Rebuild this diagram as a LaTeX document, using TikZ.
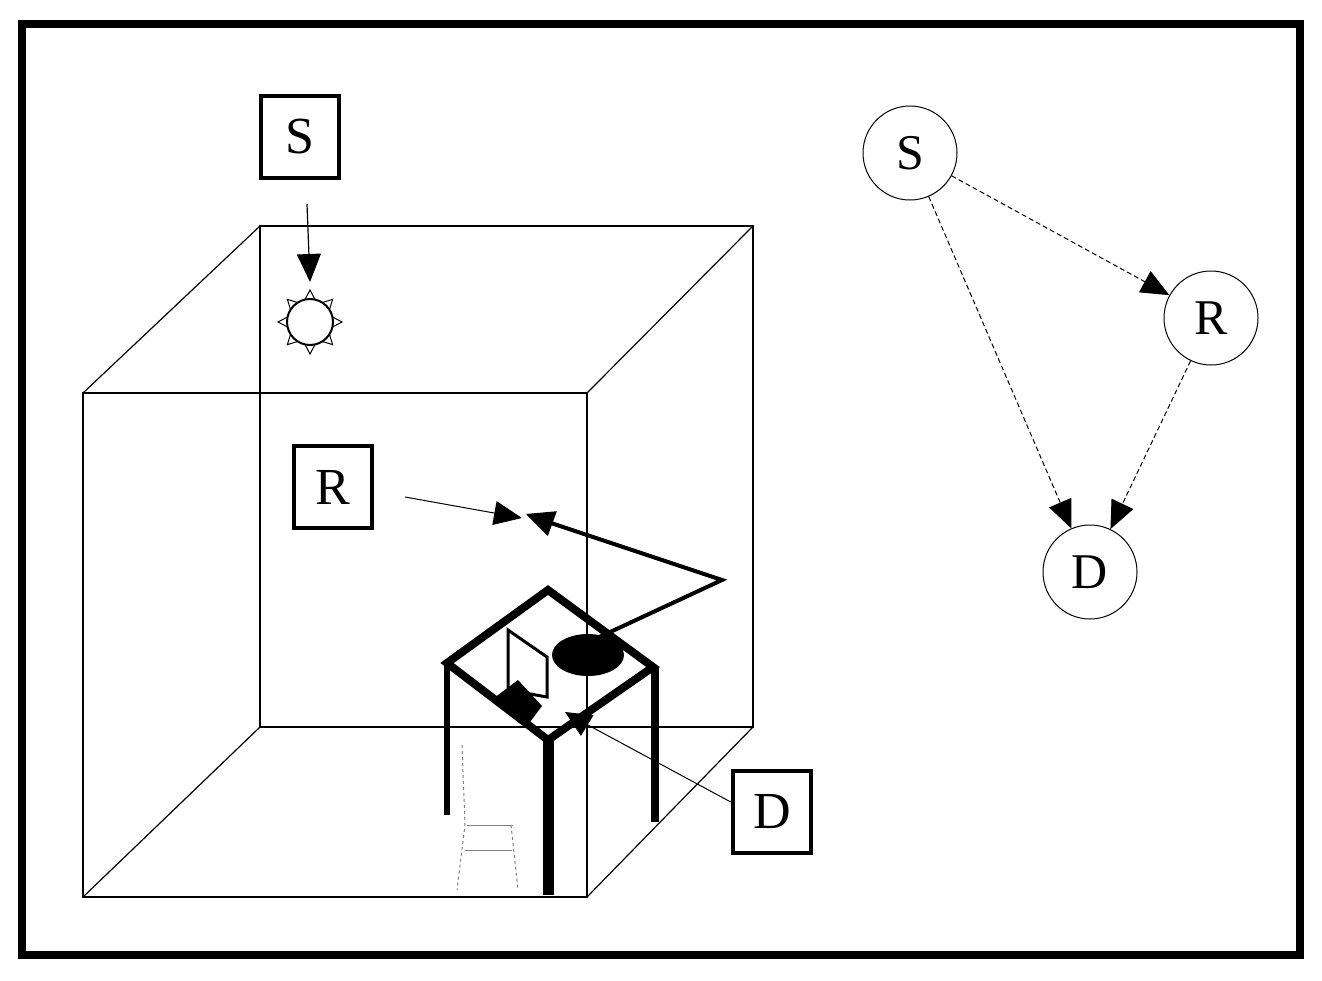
\documentclass[tikz,border=0pt]{standalone}
\usepackage{fontspec}
\setmainfont{Liberation Serif}
\usetikzlibrary{arrows.meta,calc}
\begin{document}
\begin{tikzpicture}[x=1pt,y=-1pt,
  box/.style={draw,line width=4.5pt,minimum width=78pt,minimum height=82pt,inner sep=0pt,font=\fontsize{52}{52}\selectfont},
  gn/.style={draw,circle,line width=1pt,minimum size=94pt,inner sep=0pt,font=\fontsize{50}{50}\selectfont},
  big/.style={-{Triangle[length=28pt,width=24pt]}},
  dep/.style={big,dashed,line width=1pt,dash pattern=on 5pt off 3pt}]
\useasboundingbox (0,0) rectangle (1322,980);
\draw[line width=8pt] (22,24) rectangle (1300,955);
% cube
\draw[line width=1.2pt] (260,226) rectangle (753,727);
\draw[line width=1.2pt] (83,393) rectangle (587,897);
\draw[line width=1.2pt] (83,393)--(260,226) (587,393)--(753,226) (587,897)--(753,727) (83,897)--(260,727);
% labels
\node[box] (S) at (300,137) {S};
\node[box] (R) at (333,487) {R};
\node[box] (D) at (772,812) {D};
% lamp
\coordinate (lamp) at (310,322);
\foreach \a in {0,45,...,315}
  \draw[fill=white,line width=1pt] ($(lamp)+(\a:32)$) -- ($(lamp)+(\a+15:22)$) -- ($(lamp)+(\a-15:22)$) -- cycle;
\draw[fill=white,line width=2pt] (lamp) circle (23);
\draw[big,line width=1.2pt] (S.south) ++(7,24) coordinate (s0) -- (310,282);
% R arrow
\coordinate (r0) at (405,497);
\draw[big,line width=1pt] (r0) -- (522,518);
\coordinate (bend) at (722,580);
\coordinate (ell) at (588,655);
\draw[line width=4pt] (ell) ++(5,-15) -- (bend) -- (548,522);
\draw[-{Triangle[length=28pt,width=26pt]},line width=1pt] (548,522) -- (526,514);
% table
\draw[line width=8pt,line join=miter] (548,590) -- (447,663) -- (548,740) -- (653,667) -- cycle;
\draw[line width=6pt] (447,663) -- (447,815);
\draw[line width=11pt] (548,740) -- (548,895);
\draw[line width=8pt] (655,667) -- (655,822);
% monitor & keyboard
\draw[line width=3pt] (508,690) -- (508,630) -- (547,657) -- (547,697) -- cycle;
\fill (494,698) -- (518,680) -- (542,706) -- (530,722) -- cycle;
\fill (ell) ellipse (36 and 21);
% D arrow
\draw[line width=1pt] (D.west) ++(0,-10) -- (575,718);
\draw[-{Triangle[length=26pt,width=24pt]},line width=1pt] (588,726) -- (565,712);
% chair
\draw[dashed,line width=1pt,gray] (462,745) -- (465,825) -- (457,890);
\draw[line width=1pt,gray] (467,825) -- (513,825) (465,850) -- (512,850);
\draw[dashed,line width=1pt,gray] (511,825) -- (518,890);
% graph
\node[gn] (gS) at (910,153) {S};
\node[gn] (gR) at (1211,318) {R};
\node[gn] (gD) at (1090,572) {D};
\draw[dep] (gS) -- (gR);
\draw[dep] (gS) -- (gD);
\draw[dep] (gR) -- (gD);
\end{tikzpicture}
\end{document}
